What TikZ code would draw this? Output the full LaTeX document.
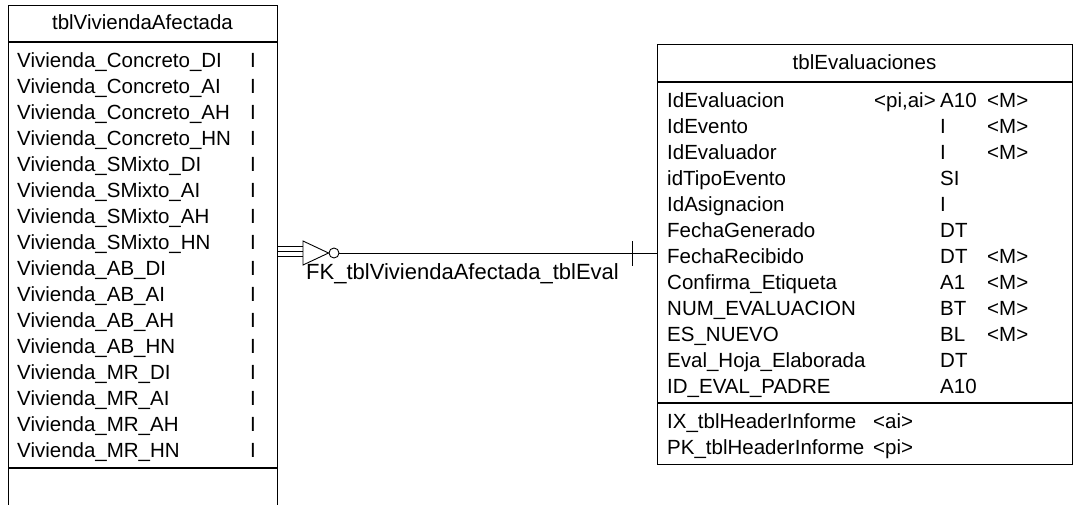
\documentclass[tikz,border=0pt]{standalone}
\usepackage{fontspec}
\setmainfont{Liberation Sans}
\begin{document}
\begin{tikzpicture}[x=1pt,y=-1pt,
  font=\fontsize{20.5}{24}\selectfont,
  tblbox/.style={draw, line width=1.3pt, inner sep=0pt},
  sepline/.style={line width=1.3pt},
  cell/.style={anchor=base west, inner sep=0pt},
  ttl/.style={anchor=base, inner sep=0pt},
  conn/.style={line width=0.9pt},
  fklabel/.style={anchor=base west, inner sep=0pt, font=\fontsize{22}{26}\selectfont}]
\useasboundingbox (0,0) rectangle (1075,504);
\clip (0,0) rectangle (1075,504);
% left table
\node[tblbox, minimum width=269pt, minimum height=520pt, anchor=north west] (viv) at (8,5) {};
\node[ttl] (vivT) at (142.5,29.5) {tblViviendaAfectada};
\draw[sepline] (viv.west |- 0,42) -- (viv.east |- 0,42);
\draw[sepline] (viv.west |- 0,468) -- (viv.east |- 0,468);
\foreach \n [count=\i from 0] in {Vivienda\_Concreto\_DI,Vivienda\_Concreto\_AI,Vivienda\_Concreto\_AH,Vivienda\_Concreto\_HN,Vivienda\_SMixto\_DI,Vivienda\_SMixto\_AI,Vivienda\_SMixto\_AH,Vivienda\_SMixto\_HN,Vivienda\_AB\_DI,Vivienda\_AB\_AI,Vivienda\_AB\_AH,Vivienda\_AB\_HN,Vivienda\_MR\_DI,Vivienda\_MR\_AI,Vivienda\_MR\_AH,Vivienda\_MR\_HN}{
  \node[cell] (vn\i) at (17,{67.5+26*\i}) {\n};
  \node[cell] (vt\i) at (250,{67.5+26*\i}) {I};
}
% right table
\node[tblbox, minimum width=415pt, minimum height=420pt, anchor=north west] (eval) at (657,44) {};
\node[ttl] (evalT) at (864.5,69.5) {tblEvaluaciones};
\draw[sepline] (eval.west |- 0,82) -- (eval.east |- 0,82);
\draw[sepline] (eval.west |- 0,403) -- (eval.east |- 0,403);
\foreach \n/\k/\t/\m [count=\i from 0] in {IdEvaluacion/{<pi,ai>}/A10/{<M>},IdEvento//I/{<M>},IdEvaluador//I/{<M>},idTipoEvento//SI/,IdAsignacion//I/,FechaGenerado//DT/,FechaRecibido//DT/{<M>},Confirma\_Etiqueta//A1/{<M>},NUM\_EVALUACION//BT/{<M>},ES\_NUEVO//BL/{<M>},Eval\_Hoja\_Elaborada//DT/,ID\_EVAL\_PADRE//A10/}{
  \node[cell] (en\i) at (667,{107.5+26*\i}) {\n};
  \node[cell] (et\i) at (940,{107.5+26*\i}) {\t};
  \node[cell] (em\i) at (987,{107.5+26*\i}) {\m};
}
\node[cell] (ek0) at (874,107.5) {<pi,ai>};
\node[cell] (ix) at (667,428.5) {IX\_tblHeaderInforme};
\node[cell] (ixk) at (873,428.5) {<ai>};
\node[cell] (pk) at (667,454.5) {PK\_tblHeaderInforme};
\node[cell] (pkk) at (873,454.5) {<pi>};
% connector
\coordinate (tri) at (303,253);
\node[circle, draw, conn, minimum size=10pt, inner sep=0pt] (fkc) at (334,253) {};
\draw[conn] (viv.east |- 0,246) -- (tri |- 0,246);
\draw[conn] (viv.east |- 0,251) -- (tri |- 0,251);
\draw[conn] (viv.east |- 0,256) -- (tri |- 0,256);
\draw[conn] (303,241) -- (fkc.west) -- (303,265) -- cycle;
\draw[conn] (fkc.east) -- (eval.west |- fkc.east);
\draw[conn] (632,241) -- (632,266);
\node[fklabel] (fk) at (306,279) {FK\_tblViviendaAfectada\_tblEval};
\end{tikzpicture}
\end{document}
